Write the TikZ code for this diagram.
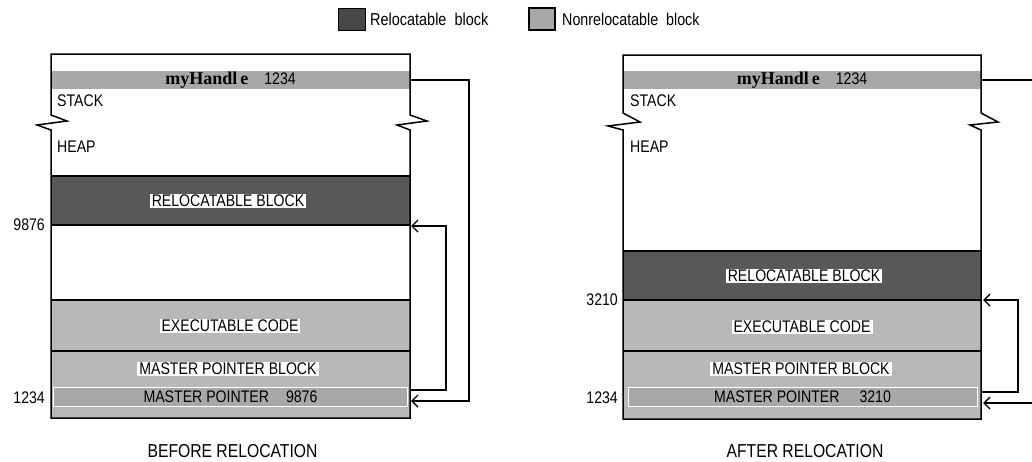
\documentclass[tikz,border=0pt]{standalone}
\usepackage{fontspec}
\setmainfont{Liberation Sans}[FakeStretch=0.84]
\newfontfamily\hfont{Liberation Serif}
\usetikzlibrary{arrows.meta}
\definecolor{darkblk}{HTML}{585858}
\definecolor{lightblk}{HTML}{B8B8B8}
\definecolor{bandgray}{HTML}{A8A8A8}
\definecolor{swdark}{HTML}{474747}
\begin{document}
\begin{tikzpicture}[x=1pt,y=-1pt,
  lbl/.style={font=\fontsize{16.8}{18}\selectfont, inner sep=0pt},
  tag/.style={lbl, fill=white, inner xsep=2pt, inner ysep=1.5pt},
  captext/.style={font=\fontsize{18.7}{20}\selectfont, inner sep=0pt},
  outl/.style={line width=1.5pt, line join=miter},
  sepline/.style={line width=1.5pt},
  conn/.style={line width=1.4pt, -{Straight Barb[length=6pt,width=12pt,line width=1.4pt]}},
  wire/.style={line width=1.4pt},
  band/.style={fill=bandgray, minimum width=359pt, minimum height=18pt, inner sep=0pt, font=\fontsize{16.8}{18}\selectfont},
  mprow/.style={draw=white, fill=bandgray, line width=1pt, minimum width=354pt, minimum height=19pt, inner sep=0pt, font=\fontsize{16.8}{18}\selectfont},
]
\useasboundingbox (0,0) rectangle (1032,461);
\clip (0,0) rectangle (1032,461);

% legend
\node[draw=black, line width=0.8pt, fill=swdark, minimum width=27pt, minimum height=22pt, inner sep=0pt] (swR) at (351.5,19) {};
\node[font=\fontsize{17.2}{19}\selectfont, inner sep=0pt, anchor=west] (legR) at (370,19) {Relocatable\ \ block};
\node[draw=black, line width=1.6pt, fill=bandgray, minimum width=26pt, minimum height=22pt, inner sep=0pt] (swN) at (542,19) {};
\node[font=\fontsize{17}{19}\selectfont, inner sep=0pt, anchor=west] (legN) at (562,19) {Nonrelocatable\ \ block};

% ===== left diagram =====
\begin{scope}[xshift=51pt]
\fill[darkblk] (0,176) rectangle (359,225);
\fill[lightblk] (0,300) rectangle (359,418);
\node[band] (handleL) at (179.5,80) {{\hfont\bfseries\fontsize{18}{18}\selectfont myHandl\kern3pt e}\hspace{16pt}1234};
\node[mprow] (mpL) at (179.5,396.5) {MASTER POINTER\hspace{17pt}9876};
\draw[sepline] (0,176) -- (359,176);
\draw[sepline] (0,225) -- (359,225);
\draw[sepline] (0,300) -- (359,300);
\draw[sepline] (0,351) -- (359,351);
\draw[outl] (0,130) -- (-14,125) -- (16,121) -- (0,115) -- (0,54) -- (359,54) -- (359,115) -- (376,121) -- (346,125) -- (359,130) -- (359,418) -- (0,418) -- cycle;
\node[lbl, anchor=west] (stackL) at (6,101) {STACK};
\node[lbl, anchor=west] (heapL) at (6,147) {HEAP};
\node[tag] (relocL) at (177,201) {RELOCATABLE BLOCK};
\node[tag] (execL) at (179,326) {EXECUTABLE CODE};
\node[tag] (mpbL) at (177,369) {MASTER POINTER BLOCK};
\end{scope}
\node[lbl, anchor=east] (aL1) at (45,225) {9876};
\node[lbl, anchor=east] (aL2) at (45,398) {1234};
\coordinate (tipL1) at (411,226);
\coordinate (tipL2) at (411,401);
\coordinate (mpLout) at (410,390);
\draw[conn] (handleL.east) -- (469,80) |- (tipL2);
\draw[conn] (mpLout) -- (446,390) |- (tipL1);
\node[captext] (capL) at (232.5,451) {BEFORE RELOCATION};

% ===== right diagram =====
\begin{scope}[xshift=623pt]
\fill[darkblk] (0,251) rectangle (358,300);
\fill[lightblk] (0,300) rectangle (358,419);
\node[band, minimum width=358pt] (handleR) at (179,80) {{\hfont\bfseries\fontsize{18}{18}\selectfont myHandl\kern3pt e}\hspace{16pt}1234};
\node[mprow, minimum width=349pt] (mpR) at (179.5,396.5) {MASTER POINTER\hspace{20pt}3210};
\draw[sepline] (0,251) -- (358,251);
\draw[sepline] (0,300) -- (358,300);
\draw[sepline] (0,351) -- (358,351);
\draw[outl] (0,130) -- (-15,126) -- (17,122) -- (0,113) -- (0,55) -- (358,55) -- (358,113) -- (375,122) -- (347,125) -- (358,130) -- (358,419) -- (0,419) -- cycle;
\node[lbl, anchor=west] (stackR) at (7,101) {STACK};
\node[lbl, anchor=west] (heapR) at (7,147) {HEAP};
\node[tag] (relocR) at (181,276) {RELOCATABLE BLOCK};
\node[tag] (execR) at (179,327) {EXECUTABLE CODE};
\node[tag] (mpbR) at (178,369) {MASTER POINTER BLOCK};
\end{scope}
\node[lbl, anchor=east] (aR1) at (618,300) {3210};
\node[lbl, anchor=east] (aR2) at (618,398) {1234};
\coordinate (tipR1) at (983,300);
\coordinate (tipR2) at (983,403);
\coordinate (mpRout) at (981,392);
\coordinate (farR) at (1050,80);
\draw[wire] (handleR.east) -- (farR);
\draw[conn] (farR) |- (tipR2);
\draw[conn] (mpRout) -- (1018,392) |- (tipR1);
\node[captext] (capR) at (805,451) {AFTER RELOCATION};
\end{tikzpicture}
\end{document}
